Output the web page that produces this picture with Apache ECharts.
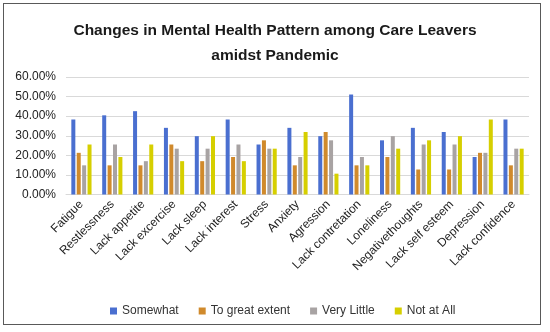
<!DOCTYPE html>
<html>
<head>
<meta charset="utf-8">
<script src="https://cdn.jsdelivr.net/npm/echarts@6/dist/echarts.min.js"></script>
<style>
html,body{margin:0;padding:0;background:#fff;}
#frame{position:absolute;left:3px;top:3px;width:538px;height:322px;border:1.5px solid #595959;box-sizing:border-box;}
#chart{position:absolute;left:0;top:0;width:550px;height:332px;}
</style>
</head>
<body>
<div id="frame"></div>
<div id="chart"></div>
<script>
const categories = ["Fatigue","Restlessness","Lack appetite","Lack excercise","Lack sleep","Lack interest","Stress","Anxiety","Agression","Lack contretation","Loneliness","Negativethoughts","Lack self esteem","Depression","Lack confidence"];
const somewhat      = [38.30,40.43,42.55,34.04,29.79,38.30,25.53,34.04,29.79,51.06,27.66,34.04,31.91,19.15,38.30];
const toGreatExtent = [21.28,14.89,14.89,25.53,17.02,19.15,27.66,14.89,31.91,14.89,19.15,12.77,12.77,21.28,14.89];
const veryLittle    = [14.89,25.53,17.02,23.40,23.40,25.53,23.40,19.15,27.66,19.15,29.79,25.53,25.53,21.28,23.40];
const notAtAll      = [25.53,19.15,25.53,17.02,29.79,17.02,23.40,31.91,10.64,14.89,23.40,27.66,29.79,38.30,23.40];
const seriesNames = ["Somewhat","To great extent","Very Little","Not at All"];
const yTicks = [0,10,20,30,40,50,60];

const colors = ["#4A6FD0","#D08A2C","#A8A3A3","#D6CF00"];
const chart = echarts.init(document.getElementById('chart'), null, {renderer:'canvas'});
const font = "'Liberation Sans', Arial, sans-serif";
const mk = (name, data, i) => ({
  name, type:'bar', data, barWidth:4, barGap:'35%',
  itemStyle:{color:colors[i]}
});
chart.setOption({
  animation:false,
  textStyle:{fontFamily:font},
  title:{
    text:"Changes in Mental Health Pattern among Care Leavers\namidst Pandemic",
    left:'center', top:13,
    textStyle:{fontSize:15.5, fontWeight:'bold', color:'#1a1a1a', lineHeight:25, fontFamily:font}
  },
  legend:{
    data:seriesNames, left:105, top:300, itemWidth:7, itemHeight:7, itemGap:20,
    icon:'rect',
    textStyle:{fontSize:12, color:'#333', fontFamily:font}
  },
  grid:{left:66, right:21, top:77, bottom:137.5},
  xAxis:{
    type:'category', data:categories,
    axisLine:{lineStyle:{color:'#D9D9D9'}},
    axisTick:{show:false},
    axisLabel:{rotate:45, interval:0, fontSize:12, color:'#222', margin:8, fontFamily:font}
  },
  yAxis:{
    type:'value', min:yTicks[0], max:yTicks[yTicks.length-1], interval:10,
    axisLine:{show:false}, axisTick:{show:false},
    splitLine:{lineStyle:{color:'#D9D9D9'}},
    axisLabel:{formatter:v=>v.toFixed(2)+'%', fontSize:12, color:'#222', margin:10, fontFamily:font}
  },
  series:[mk(seriesNames[0],somewhat,0),mk(seriesNames[1],toGreatExtent,1),mk(seriesNames[2],veryLittle,2),mk(seriesNames[3],notAtAll,3)]
});
</script>
</body>
</html>
